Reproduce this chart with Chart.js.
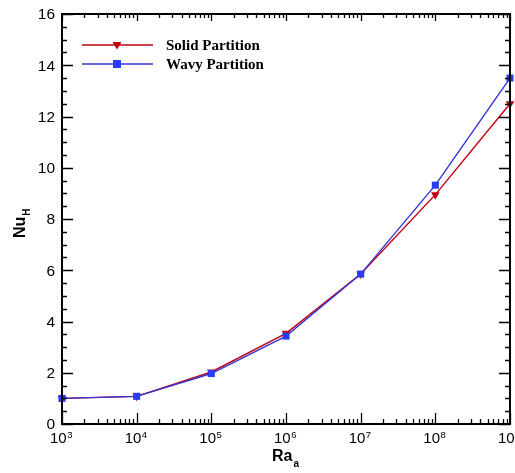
<!DOCTYPE html>
<html>
<head>
<meta charset="utf-8">
<script src="https://cdn.jsdelivr.net/npm/chart.js@4.4.1/dist/chart.umd.min.js"></script>
<style>
  html, body { margin: 0; padding: 0; background: #ffffff; }
  #wrap { width: 515px; height: 473px; }
</style>
</head>
<body>
<div id="wrap"><canvas id="nuChart" width="515" height="473"></canvas></div>
<script>
// Rayleigh numbers and average Nusselt numbers for both partition types
const raValues = [1e3, 1e4, 1e5, 1e6, 1e7, 1e8, 1e9];
const solidNu = [1.00, 1.08, 2.03, 3.54, 5.85, 8.95, 12.5];
const wavyNu  = [1.00, 1.08, 1.97, 3.43, 5.85, 9.32, 13.5];
const seriesNames = ['Solid Partition', 'Wavy Partition'];

// Axis tick labels
const yTickValues = [0, 2, 4, 6, 8, 10, 12, 14, 16];
const xTickExponents = ['3', '4', '5', '6', '7', '8', '9'];

const RED = '#c00010';
const BLUE = '#3434d8';
const BLUE_MARK = '#2a3cf5';

// Frame, ticks, tick labels, axis titles and legend drawn in a plotting-package style
const framePlugin = {
  id: 'frame',
  beforeDraw(chart) {
    const c = chart.ctx;
    c.save();
    c.fillStyle = '#ffffff';
    c.fillRect(0, 0, chart.width, chart.height);
    c.restore();
  },
  afterDraw(chart) {
    const c = chart.ctx;
    const a = chart.chartArea;
    const xs = chart.scales.x, ys = chart.scales.y;
    c.save();
    c.strokeStyle = '#000';
    c.lineCap = 'butt';

    // ticks on all four sides, pointing inward
    c.lineWidth = 1.3;
    c.beginPath();
    for (let d = 3; d <= 9; d++) {
      const px = Math.round(xs.getPixelForValue(Math.pow(10, d))) + 0.5;
      c.moveTo(px, a.bottom); c.lineTo(px, a.bottom - 11);
      c.moveTo(px, a.top); c.lineTo(px, a.top + 7);
      if (d < 9) {
        for (let m = 2; m <= 9; m++) {
          const mx = Math.round(xs.getPixelForValue(m * Math.pow(10, d))) + 0.5;
          c.moveTo(mx, a.bottom); c.lineTo(mx, a.bottom - 5);
          c.moveTo(mx, a.top); c.lineTo(mx, a.top + 4);
        }
      }
    }
    for (let v = 0; v <= 16; v += 0.5) {
      const py = Math.round(ys.getPixelForValue(v)) + 0.5;
      const major = (v % 2 === 0);
      const len = major ? 11 : 5;
      c.moveTo(a.left, py); c.lineTo(a.left + len, py);
      c.moveTo(a.right, py); c.lineTo(a.right - len, py);
    }
    c.stroke();

    // frame
    c.lineWidth = 2;
    c.strokeRect(a.left, a.top, a.right - a.left, a.bottom - a.top);

    // y tick labels
    c.fillStyle = '#000';
    c.font = '15.5px "Liberation Sans", Arial, sans-serif';
    c.textAlign = 'right';
    c.textBaseline = 'middle';
    yTickValues.forEach(v => {
      c.fillText(String(v), a.left - 7, ys.getPixelForValue(v) + 1);
    });

    // x tick labels: 10 with superscript exponent
    c.textBaseline = 'alphabetic';
    xTickExponents.forEach(e => {
      const px = xs.getPixelForValue(Math.pow(10, Number(e)));
      c.font = '15px "Liberation Sans", Arial, sans-serif';
      const w1 = c.measureText('10').width;
      c.font = '9.5px "Liberation Sans", Arial, sans-serif';
      const w2 = c.measureText(e).width;
      const x0 = px - (w1 + w2) / 2 - 1;
      c.textAlign = 'left';
      c.font = '15px "Liberation Sans", Arial, sans-serif';
      c.fillText('10', x0, 443);
      c.font = '9.5px "Liberation Sans", Arial, sans-serif';
      c.fillText(e, x0 + w1 + 0.5, 438);
    });

    // x axis title: Ra with subscript a
    c.textAlign = 'left';
    c.font = 'bold 16px "Liberation Sans", Arial, sans-serif';
    c.fillText('Ra', 272, 461);
    const wRa = c.measureText('Ra').width;
    c.font = 'bold 10px "Liberation Sans", Arial, sans-serif';
    c.fillText('a', 272 + wRa + 1, 467);

    // y axis title: Nu with subscript H, rotated
    c.save();
    c.translate(25, 238);
    c.rotate(-Math.PI / 2);
    c.font = 'bold 16px "Liberation Sans", Arial, sans-serif';
    c.fillText('Nu', 0, 0);
    const wNu = c.measureText('Nu').width;
    c.font = 'bold 10px "Liberation Sans", Arial, sans-serif';
    c.fillText('H', wNu + 1, 5);
    c.restore();

    // legend
    const entries = [
      { y: 45, color: RED, mark: RED, style: 'tri' },
      { y: 64, color: BLUE, mark: BLUE_MARK, style: 'sq' }
    ];
    entries.forEach((en, i) => {
      c.strokeStyle = en.color;
      c.lineWidth = 1.5;
      c.beginPath();
      c.moveTo(82, en.y); c.lineTo(153, en.y);
      c.stroke();
      c.fillStyle = en.mark;
      if (en.style === 'tri') {
        c.beginPath();
        c.moveTo(112.5, en.y - 3); c.lineTo(121.5, en.y - 3); c.lineTo(117, en.y + 4.5);
        c.closePath(); c.fill();
      } else {
        c.fillRect(113, en.y - 4, 8, 8);
      }
      c.fillStyle = '#000';
      c.font = 'bold 15px "Liberation Serif", "Times New Roman", serif';
      c.textAlign = 'left';
      c.textBaseline = 'middle';
      c.fillText(seriesNames[i], 166, en.y + 1);
    });
    c.restore();
  }
};

new Chart(document.getElementById('nuChart'), {
  type: 'line',
  data: {
    labels: raValues,
    datasets: [
      {
        label: seriesNames[0],
        data: raValues.map((r, i) => ({ x: r, y: solidNu[i] })),
        borderColor: RED,
        backgroundColor: RED,
        borderWidth: 1.4,
        pointStyle: 'triangle',
        pointRotation: 180,
        pointRadius: 5,
        pointBorderWidth: 0,
        tension: 0,
        clip: false,
        order: 1
      },
      {
        label: seriesNames[1],
        data: raValues.map((r, i) => ({ x: r, y: wavyNu[i] })),
        borderColor: BLUE,
        backgroundColor: BLUE_MARK,
        borderWidth: 1.4,
        pointStyle: 'rect',
        pointRadius: 5,
        pointBorderWidth: 0,
        tension: 0,
        clip: false,
        order: 0
      }
    ]
  },
  options: {
    responsive: false,
    animation: false,
    events: [],
    layout: { padding: { left: 62, right: 3, top: 14, bottom: 49 } },
    plugins: { legend: { display: false }, tooltip: { enabled: false } },
    scales: {
      x: { type: 'logarithmic', min: 1e3, max: 1e9, display: false },
      y: { type: 'linear', min: 0, max: 16, display: false }
    }
  },
  plugins: [framePlugin]
});
</script>
</body>
</html>
